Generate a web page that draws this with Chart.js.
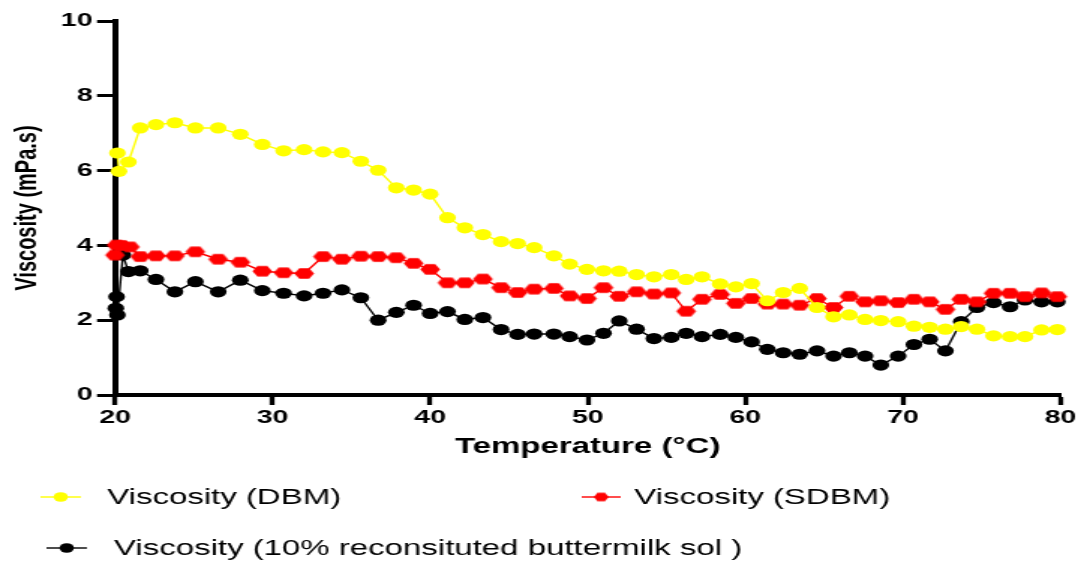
<!DOCTYPE html>
<html>
<head>
<meta charset="utf-8">
<script src="https://cdn.jsdelivr.net/npm/chart.js@4.4.0/dist/chart.umd.min.js"></script>
<style>
  html, body { margin: 0; padding: 0; background: #fff; overflow: hidden; }
  /* the plot is drawn narrow and widened to the page */
  #wrap { width: 721px; height: 561px; transform: scaleX(1.4993); transform-origin: 0 0; }
</style>
</head>
<body>
<div id="wrap"><canvas id="viscosityGraph" width="721" height="561"></canvas></div>
<script>
// Viscosity readings against temperature
const gridTemps = [21.6, 22.6, 23.8, 25.1, 26.55, 27.95, 29.35, 30.7, 32.0, 33.2,
    34.4, 35.6, 36.7, 37.85, 38.95, 40.0, 41.1, 42.2, 43.35, 44.5,
    45.55, 46.6, 47.85, 48.85, 49.95, 51.0, 52.0, 53.1, 54.2, 55.3,
    56.25, 57.25, 58.4, 59.4, 60.4, 61.4, 62.4, 63.45, 64.55, 65.6,
    66.6, 67.6, 68.6, 69.7, 70.7, 71.7, 72.7, 73.7, 74.7, 75.75,
    76.8, 77.75, 78.8, 79.8];

// first readings while the sample settles at ~20 °C
const dbmStartTemps = [20.15, 20.25, 20.85];
const dbmStartValues = [6.47, 5.98, 6.23];
const sdbmStartTemps = [20.0, 20.1, 20.4, 20.95];
const sdbmStartValues = [3.74, 4.01, 4.00, 3.96];
const bmStartTemps = [20.05, 20.1, 20.15, 20.5, 20.85];
const bmStartValues = [2.32, 2.63, 2.14, 3.74, 3.30];

const dbmValues = [7.14, 7.23, 7.28, 7.14, 7.14, 6.97, 6.70, 6.53, 6.56, 6.50,
    6.48, 6.25, 6.01, 5.54, 5.48, 5.37, 4.74, 4.47, 4.29, 4.10,
    4.05, 3.94, 3.72, 3.50, 3.36, 3.32, 3.31, 3.22, 3.16, 3.22,
    3.09, 3.16, 2.97, 2.89, 2.98, 2.52, 2.74, 2.85, 2.34, 2.09,
    2.14, 2.02, 1.99, 1.96, 1.84, 1.81, 1.76, 1.83, 1.76, 1.58,
    1.56, 1.56, 1.74, 1.75];
const sdbmValues = [3.70, 3.72, 3.72, 3.83, 3.63, 3.55, 3.31, 3.27, 3.25, 3.70,
    3.63, 3.71, 3.70, 3.67, 3.52, 3.36, 3.00, 3.00, 3.10, 2.87,
    2.74, 2.83, 2.85, 2.65, 2.58, 2.87, 2.64, 2.76, 2.70, 2.73,
    2.24, 2.56, 2.69, 2.45, 2.58, 2.43, 2.43, 2.40, 2.58, 2.34,
    2.64, 2.49, 2.52, 2.47, 2.56, 2.49, 2.29, 2.56, 2.49, 2.72,
    2.72, 2.63, 2.73, 2.63];
const bmValues = [3.32, 3.09, 2.76, 3.03, 2.76, 3.07, 2.79, 2.72, 2.65, 2.72,
    2.81, 2.60, 2.00, 2.21, 2.40, 2.18, 2.23, 2.02, 2.07, 1.75,
    1.62, 1.63, 1.63, 1.56, 1.47, 1.65, 1.98, 1.76, 1.51, 1.54,
    1.65, 1.56, 1.62, 1.54, 1.42, 1.22, 1.13, 1.09, 1.18, 1.04,
    1.13, 1.04, 0.80, 1.04, 1.35, 1.49, 1.18, 1.96, 2.34, 2.47,
    2.36, 2.54, 2.49, 2.49];

const xTicks = [20, 30, 40, 50, 60, 70, 80];
const yTicks = [0, 2, 4, 6, 8, 10];

const labels = ['Viscosity (DBM)', 'Viscosity (SDBM)', 'Viscosity (10% reconsituted buttermilk sol )'];
const colors = ['#ffff00', '#ff0000', '#000000'];

const FONT = "'Liberation Sans', Arial, sans-serif";

function toPoints(temps, values) {
    return temps.map((t, i) => ({ x: t, y: values[i] }));
}

// hexagon marker with points to the left and right
function hexMarker(r, halfH, color) {
    const c = document.createElement('canvas');
    c.width = Math.ceil(r * 2) + 2;
    c.height = Math.ceil(halfH * 2) + 2;
    const g = c.getContext('2d');
    const cx = c.width / 2, cy = c.height / 2;
    g.fillStyle = color;
    g.beginPath();
    g.moveTo(cx - r, cy);
    g.lineTo(cx - r / 2, cy - halfH);
    g.lineTo(cx + r / 2, cy - halfH);
    g.lineTo(cx + r, cy);
    g.lineTo(cx + r / 2, cy + halfH);
    g.lineTo(cx - r / 2, cy + halfH);
    g.closePath();
    g.fill();
    return c;
}

const redHex = hexMarker(6.6, 5.2, colors[1]);
const redHexSmall = hexMarker(5.0, 4.2, colors[1]);

function series(label, color, data, pointStyle) {
    return {
        label: label,
        data: data,
        showLine: true,
        borderColor: color,
        borderWidth: 1.4,
        backgroundColor: color,
        pointBackgroundColor: color,
        pointBorderColor: color,
        pointBorderWidth: 0,
        pointRadius: 5.6,
        pointStyle: pointStyle,
        tension: 0,
        clip: 10
    };
}

// legend below the axis: two entries on the first row, one on the second
const legendPlugin = {
    id: 'bottomLegend',
    afterDraw(chart) {
        const ctx = chart.ctx;
        const spots = [
            { x0: 27, x1: 54, y: 497, textX: 71.5 },
            { x0: 388, x1: 414, y: 497, textX: 423 },
            { x0: 31, x1: 58, y: 548, textX: 76 }
        ];
        ctx.save();
        chart.data.datasets.forEach((ds, i) => {
            const s = spots[i];
            const mid = (s.x0 + s.x1) / 2;
            ctx.strokeStyle = colors[i];
            ctx.lineWidth = 1.4;
            ctx.beginPath();
            ctx.moveTo(s.x0, s.y);
            ctx.lineTo(s.x1, s.y);
            ctx.stroke();
            if (i === 1) {
                ctx.drawImage(redHexSmall, mid - redHexSmall.width / 2, s.y - redHexSmall.height / 2);
            } else {
                ctx.fillStyle = colors[i];
                ctx.beginPath();
                ctx.arc(mid, s.y, 4.8, 0, Math.PI * 2);
                ctx.fill();
            }
            ctx.fillStyle = '#000';
            ctx.font = '22px ' + FONT;
            ctx.textBaseline = 'middle';
            ctx.textAlign = 'left';
            ctx.fillText(ds.label, s.textX, s.y + 1);
        });
        ctx.restore();
    }
};

const ctx = document.getElementById('viscosityGraph').getContext('2d');
new Chart(ctx, {
    type: 'scatter',
    data: {
        datasets: [
            series(labels[0], colors[0], toPoints(dbmStartTemps.concat(gridTemps), dbmStartValues.concat(dbmValues)), 'circle'),
            series(labels[1], colors[1], toPoints(sdbmStartTemps.concat(gridTemps), sdbmStartValues.concat(sdbmValues)), redHex),
            series(labels[2], colors[2], toPoints(bmStartTemps.concat(gridTemps), bmStartValues.concat(bmValues)), 'circle')
        ]
    },
    plugins: [legendPlugin],
    options: {
        responsive: false,
        animation: false,
        layout: { padding: { top: 21, right: 13.7, bottom: 101, left: 0 } },
        plugins: {
            legend: { display: false },
            tooltip: { enabled: false }
        },
        scales: {
            x: {
                type: 'linear',
                min: xTicks[0],
                max: xTicks[xTicks.length - 1],
                afterBuildTicks: s => { s.ticks = xTicks.map(v => ({ value: v })); },
                afterFit: s => { s.height = 65; },
                ticks: {
                    color: '#000',
                    padding: 1,
                    maxRotation: 0,
                    font: { family: FONT, size: 19, weight: 'bold' }
                },
                grid: { drawOnChartArea: false, drawTicks: true, tickLength: 10, tickWidth: 3.3, color: '#000' },
                border: { display: true, color: '#000', width: 4 },
                title: {
                    display: true,
                    text: 'Temperature (°C)',
                    color: '#000',
                    padding: 0,
                    font: { family: FONT, size: 22, weight: 'bold' }
                }
            },
            y: {
                min: yTicks[0],
                max: yTicks[yTicks.length - 1],
                afterBuildTicks: s => { s.ticks = yTicks.map(v => ({ value: v })); },
                afterFit: s => { s.width = 76.7; },
                ticks: {
                    color: '#000',
                    padding: 3,
                    font: { family: FONT, size: 19, weight: 'bold' }
                },
                grid: { drawOnChartArea: false, drawTicks: true, tickLength: 12, tickWidth: 3, color: '#000' },
                border: { display: true, color: '#000', width: 4 },
                title: {
                    display: true,
                    text: 'Viscosity (mPa.s)',
                    color: '#000',
                    padding: { top: 6, bottom: 0 },
                    font: { family: FONT, size: 20, weight: 'bold' }
                }
            }
        }
    }
});
</script>
</body>
</html>
